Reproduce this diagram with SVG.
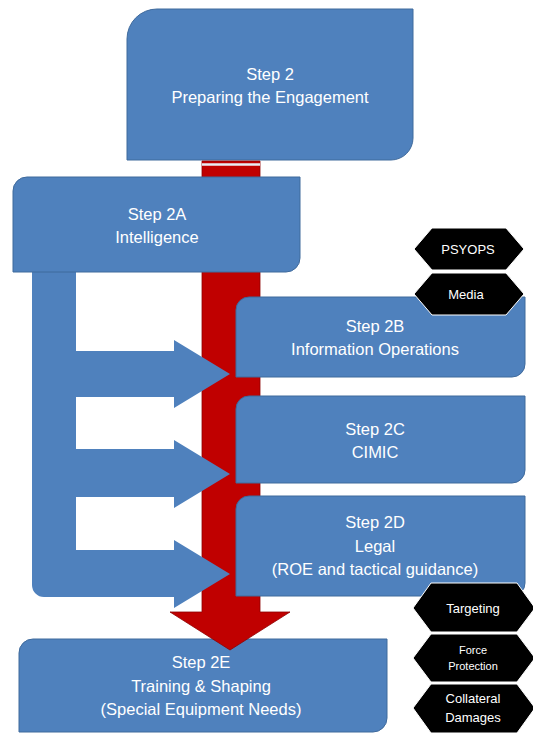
<svg xmlns="http://www.w3.org/2000/svg" width="533" height="733" viewBox="0 0 533 733">
<style>
.box{fill:#4F81BD;stroke:#3F6A9C;stroke-width:1}
.t{font-family:"Liberation Sans",Arial,sans-serif;font-size:16.5px;fill:#fff;text-anchor:middle}
.h{fill:#000;stroke:#fff;stroke-width:1}
.ht{font-family:"Liberation Sans",Arial,sans-serif;font-size:13px;fill:#fff;text-anchor:middle}
.hs{font-family:"Liberation Sans",Arial,sans-serif;font-size:11px;fill:#fff;text-anchor:middle}
</style>
<rect width="533" height="733" fill="#fff"/>
<g id="step2">
<path class="box" d="M127,39 A30,30 0 0 1 157,9 H413 V138 A22,22 0 0 1 391,160 H127 Z"/>
<text class="t" x="270" y="80">Step 2</text>
<text class="t" x="270" y="103">Preparing the Engagement</text>
</g>
<g id="step2E">
<path class="box" d="M19,653 A14,14 0 0 1 33,639 H387 V718 A14,14 0 0 1 373,732 H19 Z"/>
<text class="t" x="201" y="668">Step 2E</text>
<text class="t" x="201" y="692">Training &amp; Shaping</text>
<text class="t" x="201" y="715">(Special Equipment Needs)</text>
</g>
<g id="connectors">
<path id="red-arrow" d="M202,161 H260 V612 H290 L230,650 L170,612 H202 Z" fill="#C00000" stroke="#8E0000" stroke-width="0.8"/>
<line x1="202" y1="164.5" x2="260" y2="164.5" stroke="#E8ECF4" stroke-width="2.5"/>
<path id="bracket" d="M32,270 V585 A12,12 0 0 0 44,597 H174 V608 L230,574 L174,540 V550 H76 V497 H174 V508 L230,474 L174,440 V449 H76 V397 H174 V408 L230,374 L174,340 V351 H76 V270 Z" fill="#4F81BD"/>
</g>
<g id="step2A">
<path class="box" d="M13,191 A14,14 0 0 1 27,177 H300 V258 A14,14 0 0 1 286,272 H13 Z"/>
<text class="t" x="157" y="220">Step 2A</text>
<text class="t" x="157" y="243">Intelligence</text>
</g>
<g id="step2B">
<path class="box" d="M236,310 A13,13 0 0 1 249,297 H525 V364 A13,13 0 0 1 512,377 H236 Z"/>
<text class="t" x="375" y="332">Step 2B</text>
<text class="t" x="375" y="355">Information Operations</text>
</g>
<g id="step2C">
<path class="box" d="M236,409 A13,13 0 0 1 249,396 H525 V470 A13,13 0 0 1 512,483 H236 Z"/>
<text class="t" x="375" y="435">Step 2C</text>
<text class="t" x="375" y="458">CIMIC</text>
</g>
<g id="step2D">
<path class="box" d="M236,509 A13,13 0 0 1 249,496 H525 V583 A13,13 0 0 1 512,596 H236 Z"/>
<text class="t" x="375" y="528">Step 2D</text>
<text class="t" x="375" y="552">Legal</text>
<text class="t" x="375" y="575">(ROE and tactical guidance)</text>
</g>
<g id="psyops">
<polygon class="h" points="414,249 432,228 506,228 524,249 506,270 432,270"/>
<text class="ht" x="468" y="254">PSYOPS</text>
</g>
<g id="media">
<polygon class="h" points="414,294 432,273 506,273 524,294 506,315 432,315"/>
<text class="ht" x="466" y="299">Media</text>
</g>
<g id="targeting">
<polygon class="h" points="413,608 431,583 517,583 535,608 517,632 431,632"/>
<text class="ht" x="473" y="613">Targeting</text>
</g>
<g id="force-protection">
<polygon class="h" points="413,658 431,634 517,634 535,658 517,682 431,682"/>
<text class="hs" x="473" y="654">Force</text>
<text class="hs" x="473" y="670">Protection</text>
</g>
<g id="collateral">
<polygon class="h" points="413,708 431,684 517,684 535,708 517,733 431,733"/>
<text class="ht" x="473" y="703">Collateral</text>
<text class="ht" x="473" y="722">Damages</text>
</g>
</svg>
